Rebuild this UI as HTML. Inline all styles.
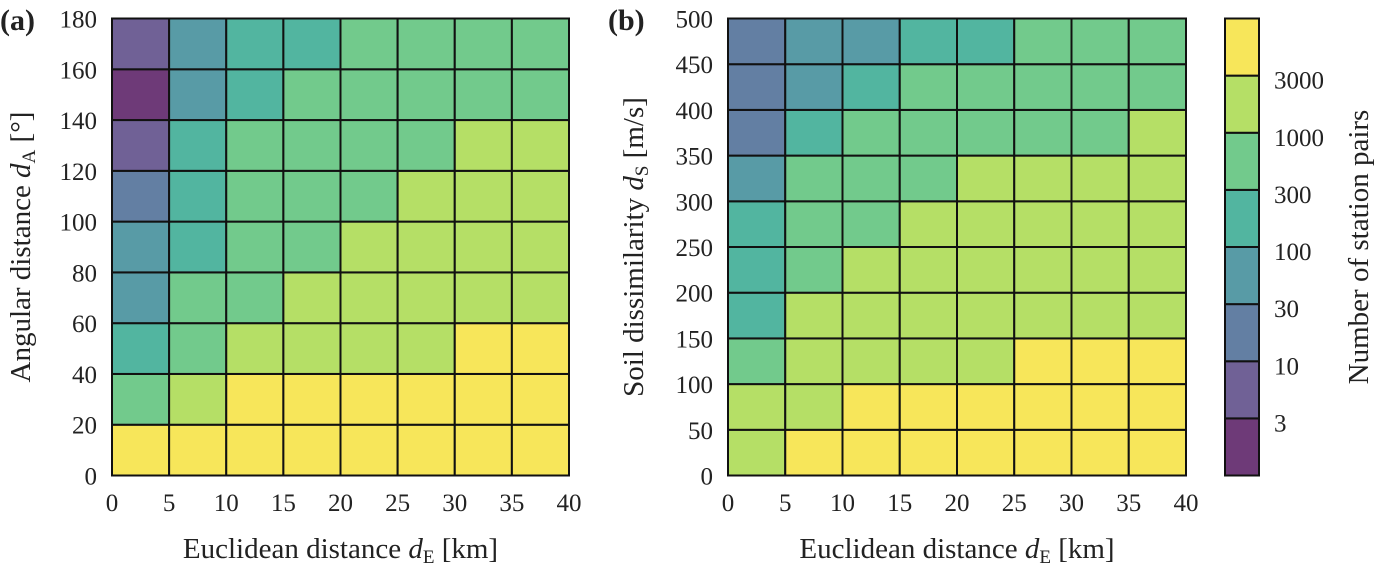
<!DOCTYPE html>
<html><head><meta charset="utf-8"><style>
body{margin:0;background:#fff;}
svg, svg text{font-family:"Liberation Serif","Times New Roman","DejaVu Serif",serif !important;}
svg text{fill:#222;}
</style></head><body>
<svg id="fig" width="1378" height="566" xmlns="http://www.w3.org/2000/svg" font-family="Liberation Serif, serif"></svg>
<script>
// Bin edges / colors for the colorbar (counts)
const binEdges = [1, 3, 10, 30, 100, 300, 1000, 3000, 1e9];
const cbTickValues = [3, 10, 30, 100, 300, 1000, 3000];
const cbTickLabels = ["3", "10", "30", "100", "300", "1000", "3000"];
const palette = ["#6e3a78", "#706196", "#637fa3", "#589ba6", "#52b5a0", "#72ca8c", "#b5df66", "#f7e65a"];

// Panel (a): x = Euclidean distance bins, y = angular distance bins (rows bottom->top)
const xCatsA = [0, 5, 10, 15, 20, 25, 30, 35];
const yCatsA = [0, 20, 40, 60, 80, 100, 120, 140, 160];
const countsA = [
 [5000,5000,5000,5000,5000,5000,5000,5000],
 [500,2000,5000,5000,5000,5000,5000,5000],
 [200,500,2000,2000,2000,2000,5000,5000],
 [50,500,500,2000,2000,2000,2000,2000],
 [50,200,500,500,2000,2000,2000,2000],
 [20,200,500,500,500,2000,2000,2000],
 [5,200,500,500,500,500,2000,2000],
 [2,50,200,500,500,500,500,500],
 [5,50,200,200,500,500,500,500]
];
const xTicksA = [0,5,10,15,20,25,30,35,40];
const yTicksA = [0,20,40,60,80,100,120,140,160,180];

// Panel (b): y = soil dissimilarity bins
const xCatsB = [0, 5, 10, 15, 20, 25, 30, 35];
const yCatsB = [0, 50, 100, 150, 200, 250, 300, 350, 400, 450];
const countsB = [
 [2000,5000,5000,5000,5000,5000,5000,5000],
 [2000,2000,5000,5000,5000,5000,5000,5000],
 [500,2000,2000,2000,2000,5000,5000,5000],
 [200,2000,2000,2000,2000,2000,2000,2000],
 [200,500,2000,2000,2000,2000,2000,2000],
 [200,500,500,2000,2000,2000,2000,2000],
 [50,500,500,500,2000,2000,2000,2000],
 [20,200,500,500,500,500,500,2000],
 [20,50,200,500,500,500,500,500],
 [20,50,50,200,200,500,500,500]
];
const xTicksB = [0,5,10,15,20,25,30,35,40];
const yTicksB = [0,50,100,150,200,250,300,350,400,450,500];

const NS = "http://www.w3.org/2000/svg";
const svg = document.getElementById("fig");
const FF = '"Liberation Serif", serif';
function mk(tag, attrs, parent){const e=document.createElementNS(NS,tag);for(const k in attrs)e.setAttribute(k,attrs[k]);if(tag==="text")e.style.fontFamily=FF;(parent||svg).appendChild(e);return e;}
function colorFor(v){for(let i=0;i<binEdges.length-1;i++){if(v<binEdges[i+1])return palette[i];}return palette[palette.length-1];}

function panel(opt){
  const g = mk("g",{});
  
  
  const L=opt.x0,R=opt.x1,T=18.5,B=475.5;
  const sx=v=>L+(v-opt.xmin)/(opt.xmax-opt.xmin)*(R-L);
  const sy=v=>B-(v-opt.ymin)/(opt.ymax-opt.ymin)*(B-T);
  opt.counts.forEach((row,ri)=>{
    row.forEach((v,ci)=>{
      const x0=sx(opt.xc[ci]), x1=sx(opt.xc[ci]+opt.dx);
      const y1=sy(opt.yc[ri]), y0=sy(opt.yc[ri]+opt.dy);
      const r=mk("rect",{x:x0,y:y0,width:x1-x0,height:y1-y0,fill:colorFor(v),stroke:"#111","stroke-width":2},g);
      
      
    });
  });
  mk("rect",{x:L,y:T,width:R-L,height:B-T,fill:"none",stroke:"#111","stroke-width":2},g);
  opt.xt.forEach(t=>{
    const tx=mk("text",{x:sx(t),y:511,"font-size":25,"text-anchor":"middle"},g);tx.textContent=t;
    
    
  });
  opt.yt.forEach(t=>{
    const tx=mk("text",{x:L-15,y:sy(t)+9,"font-size":25,"text-anchor":"end"},g);tx.textContent=t;
    
    
  });
  const xl=mk("text",{x:(L+R)/2,y:558,"font-size":29,"text-anchor":"middle"},g);
  xl.innerHTML='Euclidean distance <tspan font-style="italic">d</tspan><tspan font-size="19" dy="5">E</tspan><tspan dy="-5"> [km]</tspan>';
  
  
  const yl=mk("text",{transform:`translate(${opt.ylx},${(T+B)/2}) rotate(-90)`,"font-size":29,"text-anchor":"middle"},g);
  yl.innerHTML=opt.ylab;
  
  
  const pl=mk("text",{x:opt.plx,y:30,"font-size":30,"font-weight":"bold"},g);pl.textContent=opt.label;
  
  
}
panel({name:"panel-a",x0:112,x1:569,xmin:0,xmax:40,ymin:0,ymax:180,dx:5,dy:20,xc:xCatsA,yc:yCatsA,counts:countsA,xt:xTicksA,yt:yTicksA,ylx:30,plx:0,label:"(a)",
  ylab:'Angular distance <tspan font-style="italic">d</tspan><tspan font-size="19" dy="5">A</tspan><tspan dy="-5"> [°]</tspan>'});
panel({name:"panel-b",x0:728,x1:1186,xmin:0,xmax:40,ymin:0,ymax:500,dx:5,dy:50,xc:xCatsB,yc:yCatsB,counts:countsB,xt:xTicksB,yt:yTicksB,ylx:643,plx:608,label:"(b)",
  ylab:'Soil dissimilarity <tspan font-style="italic">d</tspan><tspan font-size="19" dy="5">S</tspan><tspan dy="-5"> [m/s]</tspan>'});

// colorbar
const cb=mk("g",{});


const cT=18.5,cB=475.5,cL=1225,cR=1259,n=palette.length,h=(cB-cT)/n;
palette.forEach((c,i)=>{
  const r=mk("rect",{x:cL,y:cB-(i+1)*h,width:cR-cL,height:h,fill:c,stroke:"#111","stroke-width":2},cb);
  
  
});
cbTickValues.forEach((v,i)=>{
  const idx=binEdges.indexOf(v);
  const t=mk("text",{x:cR+15,y:cB-idx*h+13,"font-size":25},cb);t.textContent=cbTickLabels[i];
  
  
});
const cl=mk("text",{transform:`translate(1368,${(cT+cB)/2}) rotate(-90)`,"font-size":29,"text-anchor":"middle"},cb);
cl.textContent="Number of station pairs";


</script>
</body></html>
